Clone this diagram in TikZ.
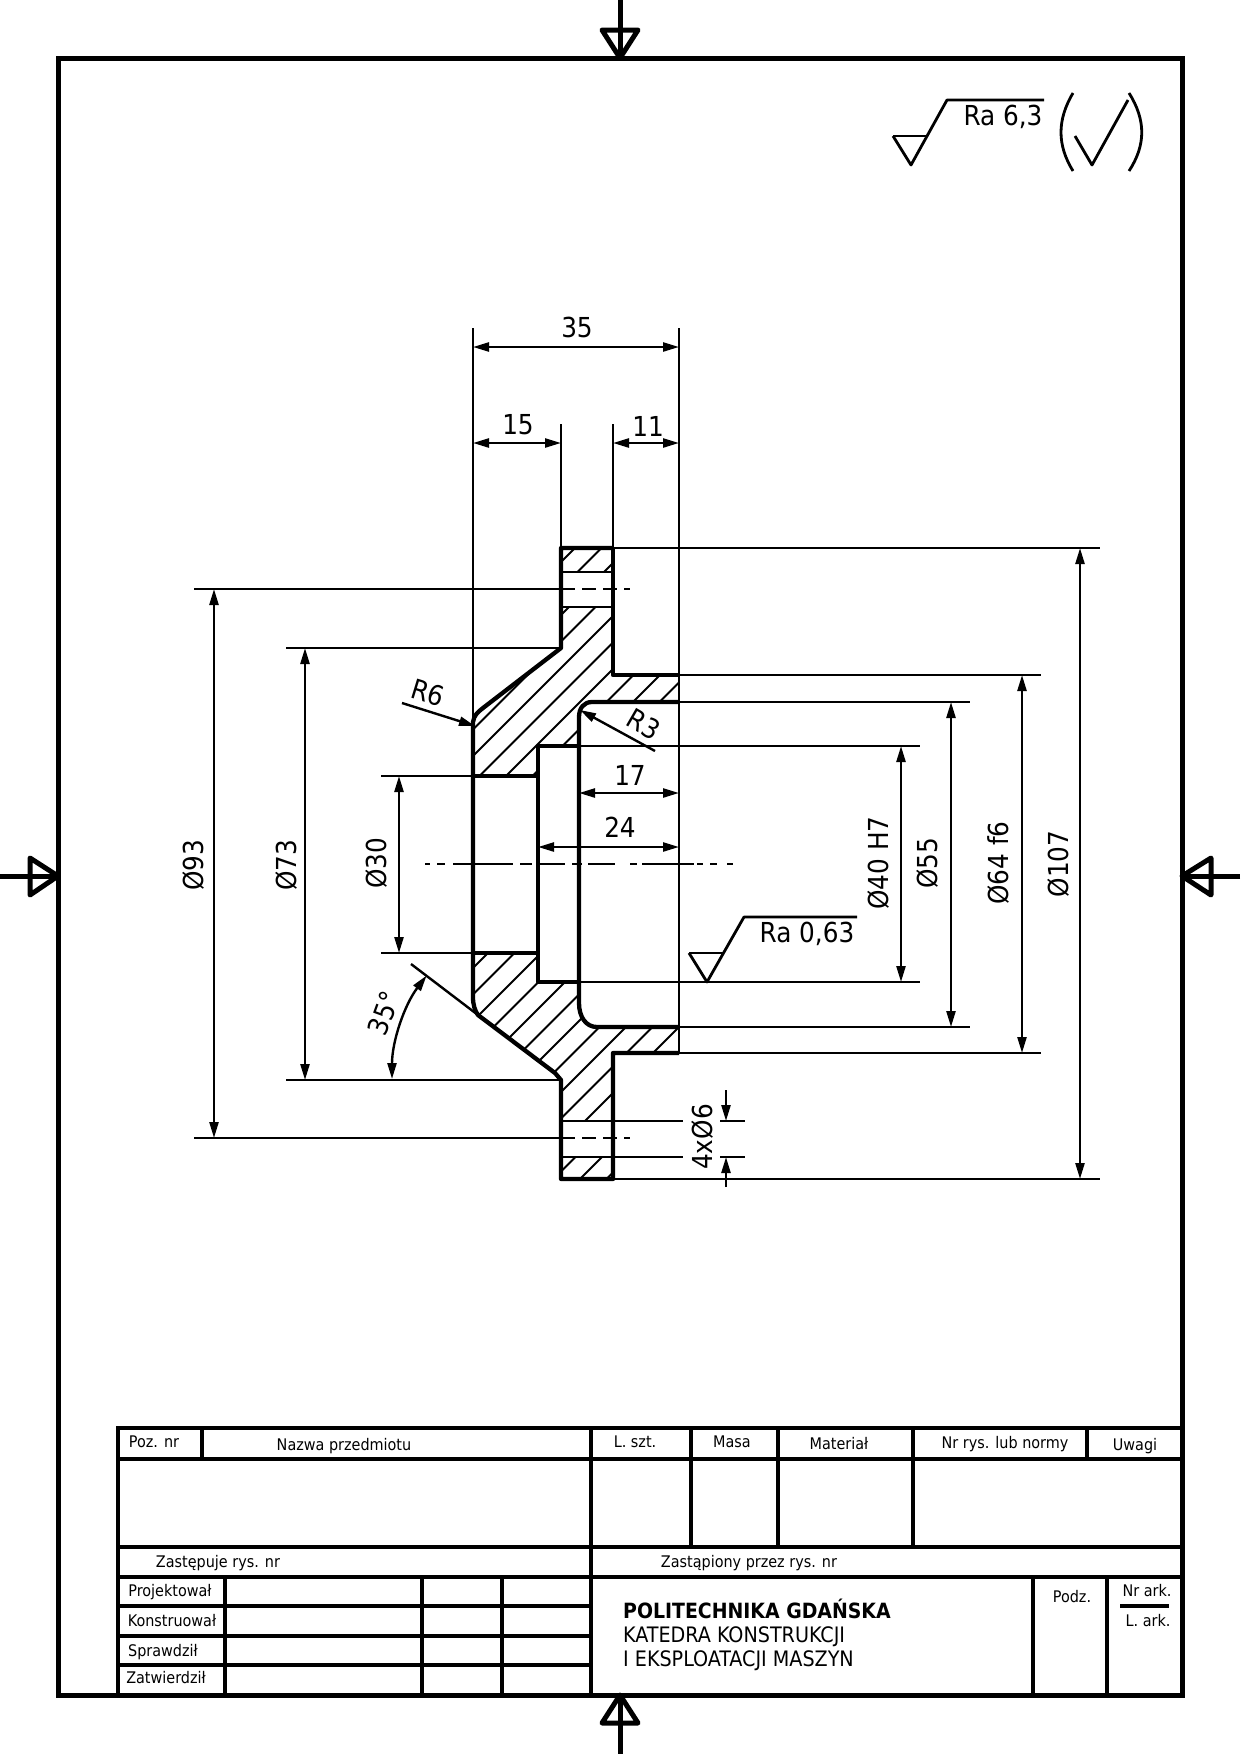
\documentclass[tikz,border=0pt]{standalone}
\usepackage{fontspec}
\setmainfont{DejaVu Sans Condensed}
\usetikzlibrary{arrows.meta, calc}

\tikzset{
  thickline/.style={line width=4.3pt},
  midline/.style={line width=2.8pt},
  thinline/.style={line width=2.4pt},
  hatchline/.style={line width=2pt},
  dimline/.style={line width=2.4pt, {Triangle[length=16pt,width=9pt]}-{Triangle[length=16pt,width=9pt]}},
  leaderline/.style={line width=2.4pt, -{Triangle[length=16pt,width=9pt]}},
  dimtext/.style={font=\fontsize{27.5}{27.5}\selectfont, inner sep=0pt},
  cell/.style={font=\fontsize{16}{16}\selectfont, inner sep=0pt},
  school/.style={font=\fontsize{21.3}{21.3}\selectfont, inner sep=0pt, anchor=west},
  marktri/.style={line width=5pt, line join=round}
}

\begin{document}
\begin{tikzpicture}[x=1pt, y=-1pt]
  \useasboundingbox (0,0) rectangle (1240,1754);

  % sheet frame and centring marks
  \draw[line width=5pt] (58,58) rectangle (1182,1695);
  \draw[marktri] (620,0) -- (620,58);
  \draw[marktri] (602,30) -- (638,30) -- (620,58) -- cycle;
  \draw[marktri] (620,1754) -- (620,1695);
  \draw[marktri] (602,1723) -- (638,1723) -- (620,1695) -- cycle;
  \draw[marktri] (0,876) -- (58,876);
  \draw[marktri] (30,858) -- (30,895) -- (58,876) -- cycle;
  \draw[marktri] (1240,876) -- (1182,876);
  \draw[marktri] (1211,858) -- (1211,895) -- (1182,876) -- cycle;

  % roughness symbols
  \draw[midline] (893,136) -- (927,136);
  \draw[midline, line join=round] (893,136) -- (911,165) -- (947,100) -- (1044,100);
  \node[dimtext] (raTop) at (1003,117) {Ra 6,3};
  \draw[midline] (1073,93) .. controls (1057,120) and (1057,145) .. (1073,171);
  \draw[midline] (1129,93) .. controls (1146,120) and (1146,145) .. (1129,171);
  \draw[midline, line join=round] (1075,136) -- (1092,165) -- (1128,100);
  \draw[midline] (689,953) -- (724,953);
  \draw[midline, line join=round] (689,953) -- (707,982) -- (744,917) -- (857,917);
  \node[dimtext] (raBore) at (807,934) {Ra 0,63};

  % section hatching
  \begin{scope}
    \clip (561,548) -- (613,548) -- (613,572) -- (561,572) -- cycle
      (561,607) -- (613,607) -- (613,675) -- (679,675) -- (679,702) -- (592,702)
        .. controls (584,702) and (579,708) .. (579,717) -- (579,746) -- (538,746)
        -- (538,776) -- (473,776) -- (473,722)
        .. controls (474,715) and (478,712) .. (483,708) -- (561,648) -- cycle
      (473,953) -- (538,953) -- (538,982) -- (579,982) -- (579,1003)
        .. controls (579,1017) and (586,1027) .. (597,1027) -- (679,1027) -- (679,1053)
        -- (613,1053) -- (613,1121) -- (561,1121) -- (561,1080) -- (555,1073) -- (478,1015)
        .. controls (475,1011) and (473,1005) .. (473,997) -- cycle
      (561,1157) -- (613,1157) -- (613,1179) -- (561,1179) -- cycle;
    \foreach \k in {0,...,25} {
      \pgfmathsetmacro{\s}{1123+26.5*\k}
      \draw[hatchline] ({\s-400},400) -- ({\s-1300},1300);
    }
  \end{scope}

  % part outline
  \draw[thickline, line join=round] (613,548) -- (561,548) -- (561,648) -- (483,708)
    .. controls (478,712) and (474,715) .. (473,722) -- (473,997)
    .. controls (473,1005) and (475,1011) .. (478,1015) -- (555,1073) -- (561,1080)
    -- (561,1179) -- (613,1179) -- (613,1053) -- (679,1053);
  \draw[thickline, line join=round] (613,548) -- (613,675) -- (679,675);
  \draw[thickline, line join=round] (679,702) -- (592,702)
    .. controls (584,702) and (579,708) .. (579,717) -- (579,1003)
    .. controls (579,1017) and (586,1027) .. (597,1027) -- (679,1027);
  \draw[thickline, line join=round] (579,746) -- (538,746) -- (538,982) -- (579,982);
  \draw[thickline] (473,776) -- (538,776);
  \draw[thickline] (473,953) -- (538,953);
  \draw[midline] (561,572) -- (613,572);
  \draw[midline] (561,607) -- (613,607);
  \draw[midline] (561,1121) -- (613,1121);
  \draw[midline] (561,1157) -- (613,1157);
  \draw[midline] (679,328) -- (679,1053);

  % extension lines
  \draw[thinline] (473,328) -- (473,722);
  \draw[thinline] (561,424) -- (561,548);
  \draw[thinline] (613,424) -- (613,548);
  \draw[midline] (613,548) -- (1100,548);
  \draw[thinline] (679,675) -- (1041,675);
  \draw[thinline] (679,702) -- (970,702);
  \draw[thinline] (579,746) -- (920,746);
  \draw[thinline] (579,982) -- (920,982);
  \draw[midline] (679,1027) -- (970,1027);
  \draw[thinline] (679,1053) -- (1041,1053);
  \draw[midline] (613,1179) -- (1100,1179);
  \draw[thinline] (194,589) -- (561,589);
  \draw[thinline] (194,1138) -- (561,1138);
  \draw[thinline] (286,648) -- (561,648);
  \draw[thinline] (286,1080) -- (561,1080);
  \draw[thinline] (381,776) -- (473,776);
  \draw[thinline] (381,953) -- (473,953);
  \draw[thinline] (411,964) -- (478,1015);
  \draw[thinline] (613,1121) -- (683,1121);
  \draw[thinline] (613,1157) -- (683,1157);
  \draw[thinline] (720,1121) -- (745,1121);
  \draw[thinline] (720,1157) -- (745,1157);

  % axes
  \draw[thinline, dash pattern=on 14pt off 7pt] (561,589) -- (630,589);
  \draw[thinline, dash pattern=on 14pt off 7pt] (561,1138) -- (630,1138);
  \foreach \xa/\xb in {425/430, 437/445, 453/513, 520/532, 538/565, 572/582, 588/615, 630/637, 642/694, 697/703, 710/717, 727/733} {
    \draw[line width=1.8pt] (\xa,864) -- (\xb,864);
  }

  % dimensions
  \draw[dimline] (473,347) -- (679,347);
  \node[dimtext] (dimA) at (577,327) {35};
  \draw[dimline] (473,443) -- (561,443);
  \node[dimtext] (dimB) at (518,425) {15};
  \draw[dimline] (613,443) -- (679,443);
  \node[dimtext] (dimC) at (648,426) {11};
  \draw[dimline] (579,793) -- (679,793);
  \node[dimtext] (dimD) at (630,775) {17};
  \draw[dimline] (538,847) -- (679,847);
  \node[dimtext] (dimE) at (620,827) {24};
  \draw[dimline] (214,589) -- (214,1138);
  \node[dimtext, rotate=90] (dimF) at (194,865) {Ø93};
  \draw[dimline] (305,648) -- (305,1080);
  \node[dimtext, rotate=90] (dimG) at (286,865) {Ø73};
  \draw[dimline] (399,776) -- (399,953);
  \node[dimtext, rotate=90] (dimH) at (376,863) {Ø30};
  \draw[dimline] (901,746) -- (901,982);
  \node[dimtext, rotate=90] (dimI) at (878,863) {Ø40 H7};
  \draw[dimline] (951,702) -- (951,1027);
  \node[dimtext, rotate=90] (dimJ) at (927,863) {Ø55};
  \draw[dimline] (1022,675) -- (1022,1053);
  \node[dimtext, rotate=90] (dimK) at (998,863) {Ø64 f6};
  \draw[dimline] (1080,548) -- (1080,1179);
  \node[dimtext, rotate=90] (dimL) at (1058,864) {Ø107};

  \draw[leaderline] (402,703) -- (475,726);
  \node[dimtext, rotate=-17] (radA) at (428,693) {R6};
  \draw[leaderline] (655,751) -- (580,710);
  \node[dimtext, rotate=-30] (radB) at (644,724) {R3};

  \draw[leaderline] (726,1090) -- (726,1121);
  \draw[leaderline] (726,1187) -- (726,1157);
  \node[dimtext, rotate=90] (dimHole) at (702,1137) {4xØ6};

  \draw[dimline] (392,1079) arc[start angle=180, end angle=217, radius=172];
  \node[dimtext, rotate=70] (dimAng) at (384,1013) {35°};

  % title block
  \draw[thickline] (118,1695) -- (118,1428) -- (1182,1428);
  \draw[thickline] (118,1459) -- (1182,1459);
  \draw[thickline] (118,1547) -- (1182,1547);
  \draw[thickline] (118,1577) -- (1182,1577);
  \draw[thickline] (118,1606) -- (591,1606);
  \draw[thickline] (118,1636) -- (591,1636);
  \draw[thickline] (118,1665) -- (591,1665);
  \draw[thickline] (202,1428) -- (202,1459);
  \draw[thickline] (591,1428) -- (591,1695);
  \foreach \cx in {691,778,913} {
    \draw[thickline] (\cx,1428) -- (\cx,1547);
  }
  \draw[thickline] (1087,1428) -- (1087,1459);
  \foreach \cx in {225,422,502} {
    \draw[thickline] (\cx,1577) -- (\cx,1695);
  }
  \draw[thickline] (1033,1577) -- (1033,1695);
  \draw[thickline] (1107,1577) -- (1107,1695);
  \draw[thickline] (1120,1606) -- (1169,1606);

  \node[cell] (cellPoz) at (154,1442) {Poz. nr};
  \node[cell] (cellNazwa) at (344,1446) {Nazwa przedmiotu};
  \node[cell] (cellSzt) at (635,1442) {L. szt.};
  \node[cell] (cellMasa) at (732,1442) {Masa};
  \node[cell] (cellMat) at (839,1444) {Materiał};
  \node[cell] (cellNorm) at (1005,1444) {Nr rys. lub normy};
  \node[cell] (cellUwagi) at (1135,1446) {Uwagi};
  \node[cell] (cellOld) at (218,1563) {Zastępuje rys. nr};
  \node[cell] (cellNew) at (749,1563) {Zastąpiony przez rys. nr};
  \node[cell] (cellProj) at (170,1592) {Projektował};
  \node[cell] (cellKons) at (172,1621) {Konstruował};
  \node[cell] (cellSpr) at (163,1652) {Sprawdził};
  \node[cell] (cellZat) at (166,1678) {Zatwierdził};
  \node[cell] (cellPodz) at (1072,1597) {Podz.};
  \node[cell] (cellArk) at (1147,1591) {Nr ark.};
  \node[cell] (cellLark) at (1148,1621) {L. ark.};
  \node[school, font=\fontsize{21}{21}\selectfont\bfseries] (schoolA) at (623,1609) {POLITECHNIKA GDAŃSKA};
  \node[school] (schoolB) at (623,1637) {KATEDRA KONSTRUKCJI};
  \node[school] (schoolC) at (623,1661) {I EKSPLOATACJI MASZYN};
\end{tikzpicture}
\end{document}
